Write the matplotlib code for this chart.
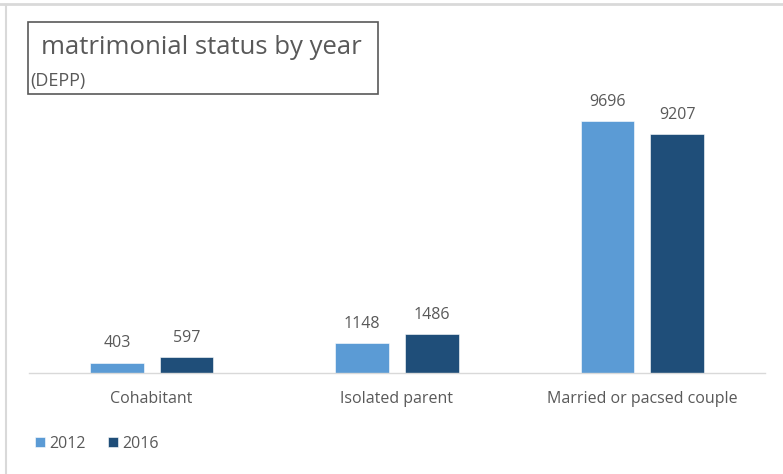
import numpy as np
import matplotlib.pyplot as plt
from matplotlib.patches import Rectangle
from matplotlib.lines import Line2D

plt.rcParams['font.family'] = ['Open Sans', 'DejaVu Sans']

categories = ["Cohabitant", "Isolated parent", "Married or pacsed couple"]
years = ["2012", "2016"]
values_2012 = [403, 1148, 9696]
values_2016 = [597, 1486, 9207]
colors = ["#5B9BD5", "#1F4E79"]
text_gray = "#595959"

fig = plt.figure(figsize=(7.83, 4.74), dpi=100)
W, H = 783, 474
ax = fig.add_axes([29 / W, 101 / H, 736 / W, 312 / H])

x = np.arange(len(categories))
width = 0.22
offset = 0.142
for vals, off, col, lab in [(values_2012, -offset, colors[0], years[0]),
                            (values_2016, offset, colors[1], years[1])]:
    bars = ax.bar(x + off, vals, width, color=col, label=lab,
                  edgecolor="white", linewidth=0.4)
    for b, v in zip(bars, vals):
        ax.annotate(str(v), (b.get_x() + b.get_width() / 2, v),
                    xytext=(0, 8), textcoords="offset points",
                    ha="center", va="bottom", fontsize=11.5, color=text_gray)

ax.set_xlim(-0.5, 2.5)
ax.set_ylim(0, 12000)
ax.set_yticks([])
ax.set_xticks(x)
ax.set_xticklabels(categories, fontsize=11.5, color=text_gray)
ax.tick_params(axis="x", length=0, pad=13)
for s in ["top", "right", "left"]:
    ax.spines[s].set_visible(False)
ax.spines["bottom"].set_color("#D9D9D9")
ax.spines["bottom"].set_linewidth(1)

# title box
fig.patches.append(Rectangle((28 / W, 1 - 94 / H), 350 / W, 72 / H,
                             transform=fig.transFigure, fill=False,
                             edgecolor="#595959", linewidth=1.2))
fig.text(41 / W, 1 - 48 / H, "matrimonial status by year", fontsize=18.5,
         color=text_gray, va="center", ha="left")
fig.text(30 / W, 1 - 81 / H, "(DEPP)", fontsize=13,
         color=text_gray, va="center", ha="left")

# outer chart frame (top and left edges)
fig.add_artist(Line2D([0, 1], [1 - 4 / H, 1 - 4 / H], color="#D9D9D9",
                      linewidth=2, transform=fig.transFigure))
fig.add_artist(Line2D([6 / W, 6 / W], [0, 1 - 5 / H], color="#D9D9D9",
                      linewidth=1.5, transform=fig.transFigure))

fig.legend(loc="lower left", bbox_to_anchor=(35 / W, 22 / H), ncol=2,
           frameon=False, fontsize=11.5, labelcolor=text_gray,
           handlelength=0.6, handleheight=0.6, handletextpad=0.3,
           columnspacing=1.4, borderaxespad=0, borderpad=0)

fig.savefig("out.png", dpi=100)
